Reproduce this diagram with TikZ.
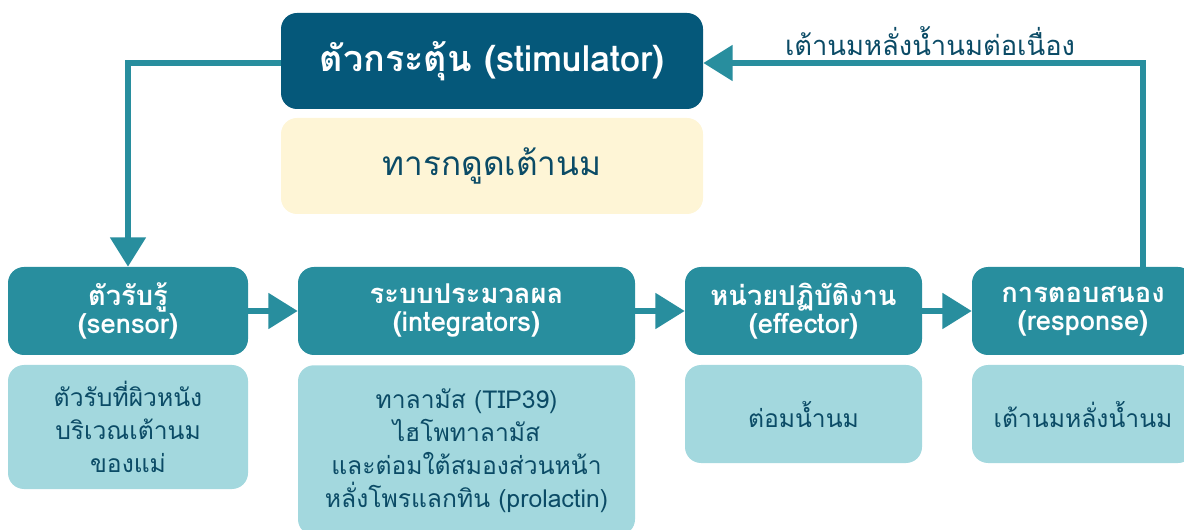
\documentclass[tikz,border=0pt]{standalone}
\usepackage{fontspec}
\setmainfont{Loma}[Script=Thai]
\usetikzlibrary{arrows.meta}
\definecolor{darkblue}{HTML}{05587A}
\definecolor{teal}{HTML}{288E9E}
\definecolor{lightteal}{HTML}{A3D8DE}
\definecolor{cream}{HTML}{FEF5D6}
\definecolor{inktext}{HTML}{0B4B66}
\tikzset{
  px/.style={x=0.75pt,y=-0.75pt},
  headbox/.style={fill=teal,rounded corners=12pt,text=white,font=\bfseries\fontsize{20.5}{21}\selectfont,align=center,inner sep=0pt},
  infobox/.style={fill=lightteal,rounded corners=12pt,text=inktext,font=\fontsize{18.5}{24.75}\selectfont,align=center,inner sep=0pt},
  flow/.style={draw=teal,line width=4.5pt,-{Triangle[length=22pt,width=26pt]}},
}
\begin{document}
\begin{tikzpicture}[px]
\useasboundingbox (0,0) rectangle (1184,530);
% stimulus and its example
\node[fill=darkblue,rounded corners=12pt,text=white,font=\bfseries\fontsize{27}{30}\selectfont,
  minimum width=422*0.75pt,minimum height=96*0.75pt,inner sep=0pt] (stim) at (492,61) {ตัวกระตุ้น (stimulator)};
\node[fill=cream,rounded corners=12pt,text=inktext,font=\fontsize{25}{28}\selectfont,
  minimum width=422*0.75pt,minimum height=96*0.75pt,inner sep=0pt] (suck) at (492,166) {ทารกดูดเต้านม};
% the chain of stages
\node[headbox,minimum width=240*0.75pt,minimum height=88*0.75pt] (sen) at (128,311) {ตัวรับรู้\\(sensor)};
\node[headbox,minimum width=337*0.75pt,minimum height=88*0.75pt] (int) at (466.5,311) {ระบบประมวลผล\\(integrators)};
\node[headbox,minimum width=237*0.75pt,minimum height=88*0.75pt] (eff) at (803.5,311) {หน่วยปฏิบัติงาน\\(effector)};
\node[headbox,minimum width=222*0.75pt,minimum height=88*0.75pt] (res) at (1083,311) {การตอบสนอง\\(response)};
% details under each stage
\node[infobox,minimum width=240*0.75pt,minimum height=124*0.75pt] (senD) at (128,427) {ตัวรับที่ผิวหนัง\\บริเวณเต้านม\\ของแม่};
\node[infobox,minimum width=337*0.75pt,minimum height=170*0.75pt,anchor=north] (intD) at (466.5,365) {ทาลามัส (TIP39)\\ไฮโพทาลามัส\\และต่อมใต้สมองส่วนหน้า\\หลั่งโพรแลกทิน (prolactin)};
\node[infobox,minimum width=237*0.75pt,minimum height=98*0.75pt] (effD) at (803.5,414) {ต่อมน้ำนม};
\node[infobox,minimum width=222*0.75pt,minimum height=98*0.75pt] (resD) at (1083,414) {เต้านมหลั่งน้ำนม};
% connectors
\coordinate (lc) at (128,63);
\coordinate (rc) at (1143,63);
\draw[flow] (stim.west |- lc) -| (sen.north);
\draw[flow] (sen) -- (int);
\draw[flow] (int) -- (eff);
\draw[flow] (eff) -- (res);
\draw[flow] (res.north -| rc) |- (stim.east |- rc);
\node[text=inktext,font=\fontsize{20.5}{24}\selectfont] (loop) at (930,41) {เต้านมหลั่งน้ำนมต่อเนื่อง};
\end{tikzpicture}
\end{document}
